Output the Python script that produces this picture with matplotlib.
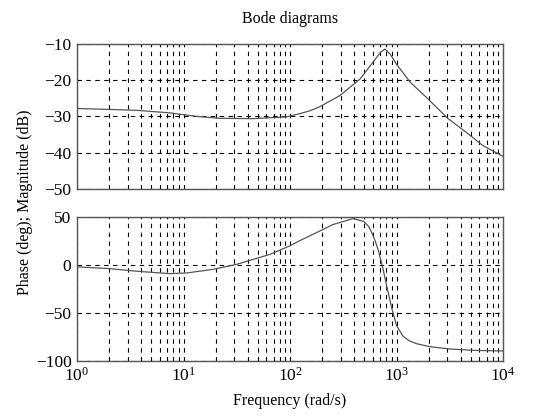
import matplotlib
matplotlib.use("Agg")
import matplotlib.pyplot as plt
import numpy as np

plt.rcParams["font.family"] = ["Liberation Serif", "DejaVu Serif"]
plt.rcParams["mathtext.fontset"] = "stix"

# log10(frequency) and values
mag_logw = [0.0, 0.245, 0.56, 0.87, 1.13, 1.34, 1.65, 1.97, 2.094, 2.19, 2.28,
            2.47, 2.66, 2.78, 2.85, 2.89, 2.94, 3.0, 3.13, 3.29, 3.48, 3.66,
            3.81, 4.0]
mag_db = [-27.8, -28.0, -28.3, -29.0, -30.0, -30.5, -30.6, -30.1, -29.2, -28.4,
          -27.3, -24.2, -19.6, -15.0, -12.3, -11.4, -12.8, -15.6, -20.6, -25.0,
          -30.5, -34.5, -38.0, -41.0]

phase_logw = [0.0, 0.31, 0.56, 0.87, 1.03, 1.28, 1.50, 1.81, 2.0, 2.094, 2.31,
              2.40, 2.59, 2.69, 2.74, 2.77, 2.80, 2.83, 2.87, 2.91, 2.96, 3.0,
              3.06, 3.12, 3.19, 3.31, 3.5, 3.75, 4.0]
phase_deg = [-2.0, -3.8, -6.5, -9.0, -8.3, -4.5, 0.7, 11.0, 20.0, 25.5, 37.0,
             42.0, 48.3, 45.5, 40.0, 33.0, 25.0, 15.0, -2.5, -23.0, -47.0, -63.0,
             -74.0, -79.0, -82.0, -85.0, -87.5, -89.0, -89.5]

mag_ticks = [-50, -40, -30, -20, -10]
phase_ticks = [-100, -50, 0, 50]

fig = plt.figure(figsize=(5.47, 4.16), dpi=100)
ax_mag = fig.add_axes([0.1408, 0.5457, 0.7788, 0.3486])
ax_ph = fig.add_axes([0.1408, 0.1322, 0.7788, 0.3462])

line_color = "#555555"
ax_mag.semilogx(10 ** np.array(mag_logw), mag_db, color=line_color, lw=0.9)
ax_ph.semilogx(10 ** np.array(phase_logw), phase_deg, color=line_color, lw=0.9)

for ax, ticks in [(ax_mag, mag_ticks), (ax_ph, phase_ticks)]:
    ax.set_xlim(1, 1e4)
    ax.set_ylim(ticks[0], ticks[-1])
    ax.set_yticks(ticks)
    ax.grid(True, which="both", axis="x", color="black", ls=(0, (4, 4)), lw=0.8)
    ax.grid(True, which="major", axis="y", color="black", ls=(0, (4, 4)), lw=0.8)
    ax.tick_params(which="both", direction="in", length=0, labelsize=12.5, pad=4)
    for sp in ax.spines.values():
        sp.set_color("#555555")
        sp.set_linewidth(1.0)

ax_mag.set_xticklabels([])
ax_mag.set_title("Bode diagrams", fontsize=11.5, pad=15)
ax_ph.set_xlabel("Frequency (rad/s)", fontsize=11.5, labelpad=6)
fig.text(0.045, 0.513, "Phase (deg); Magnitude (dB)", rotation=90,
         ha="center", va="center", fontsize=11.5)

plt.savefig("out.png", dpi=100)
plt.close()
